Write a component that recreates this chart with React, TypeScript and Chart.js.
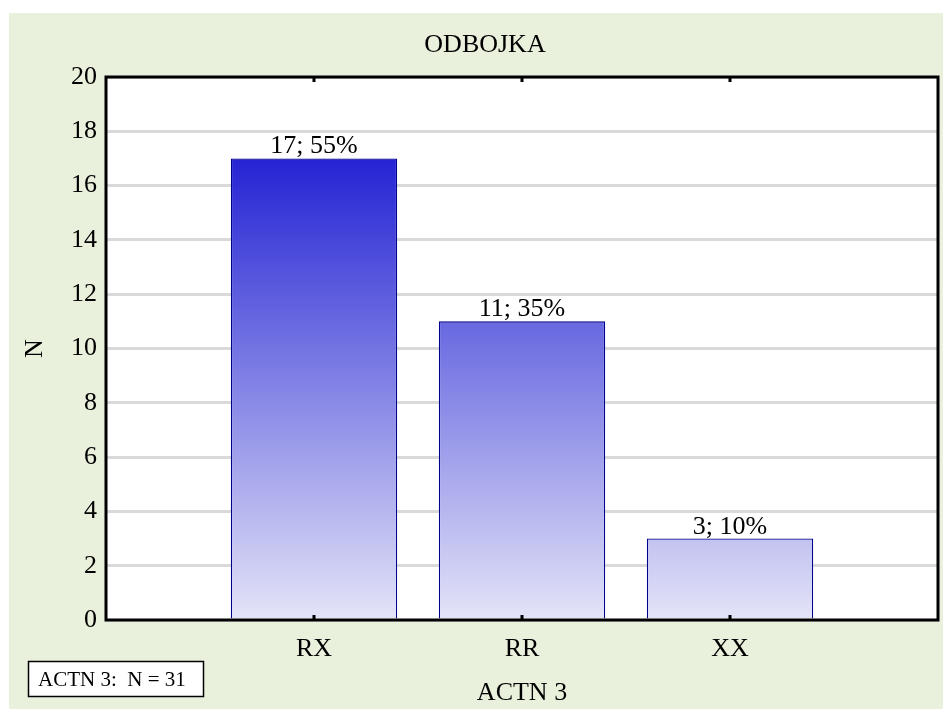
import React, { useEffect, useRef } from "react";
import { Chart, registerables } from "chart.js";

Chart.register(...registerables);

const chartTitle = "ODBOJKA";
const categories = ["RX", "RR", "XX"];
const values = [17, 11, 3];
const yTitle = "N";
const xTitle = "ACTN 3";
const noteText = "ACTN 3:  N = 31";
const yMin = 0;
const yMax = 20;
const yStep = 2;

const FONT = '"Liberation Serif", "Times New Roman", serif';

export default function App() {
  const ref = useRef<HTMLCanvasElement | null>(null);

  useEffect(() => {
    const canvas = ref.current;
    if (!canvas) return;
    const total = values.reduce((a, b) => a + b, 0);
    const labels = ["", ...categories, ""];
    const data = [null, ...values, null];
    const maxVal = Math.max(...values);

    const decor = {
      id: "decor",
      beforeDraw(chart: any) {
        const { ctx, chartArea } = chart;
        ctx.save();
        ctx.fillStyle = "#ffffff";
        ctx.fillRect(0, 0, chart.width, chart.height);
        ctx.fillStyle = "#E9F0DC";
        ctx.fillRect(9, 13, chart.width - 9, chart.height - 13);
        ctx.fillStyle = "#ffffff";
        ctx.fillRect(chartArea.left, chartArea.top, chartArea.right - chartArea.left, chartArea.bottom - chartArea.top);
        ctx.fillStyle = "#000";
        ctx.font = `26px ${FONT}`;
        ctx.textAlign = "center";
        ctx.textBaseline = "middle";
        ctx.fillText(chartTitle, 485, 45);
        ctx.restore();
      },
      afterDraw(chart: any) {
        const { ctx, chartArea } = chart;
        const xs = chart.scales.x;
        ctx.save();
        // frame
        ctx.strokeStyle = "#000";
        ctx.lineWidth = 3;
        ctx.strokeRect(chartArea.left, chartArea.top, chartArea.right - chartArea.left, chartArea.bottom - chartArea.top);
        // inward category tick marks
        ctx.fillStyle = "#000";
        for (let i = 1; i <= categories.length; i++) {
          const px = xs.getPixelForValue(i);
          ctx.fillRect(px - 1.5, chartArea.bottom - 5, 3, 5);
          ctx.fillRect(px - 1.5, chartArea.top, 3, 5);
        }
        // value labels
        const meta = chart.getDatasetMeta(0);
        ctx.font = `26px ${FONT}`;
        ctx.textAlign = "center";
        ctx.textBaseline = "alphabetic";
        meta.data.forEach((bar: any, i: number) => {
          const v = data[i];
          if (v == null) return;
          const pct = Math.round((v / total) * 100);
          ctx.fillText(`${v}; ${pct}%`, bar.x, bar.y - 5);
        });
        // note box
        ctx.fillStyle = "#fff";
        ctx.fillRect(28, 661, 176, 36);
        ctx.strokeStyle = "#000";
        ctx.lineWidth = 1.5;
        ctx.strokeRect(28.5, 661.5, 175, 35);
        ctx.fillStyle = "#000";
        ctx.font = `21px ${FONT}`;
        ctx.textAlign = "left";
        ctx.textBaseline = "middle";
        ctx.fillText(noteText, 38, 680);
        ctx.restore();
      },
    };

    const chart = new Chart(canvas, {
      type: "bar",
      data: {
        labels,
        datasets: [
          {
            data,
            backgroundColor: (c: any) => {
              const ch = c.chart;
              const area = ch.chartArea;
              if (!area || !ch.scales.y) return "#8888e8";
              const y0 = ch.scales.y.getPixelForValue(0);
              const y1 = ch.scales.y.getPixelForValue(maxVal);
              const g = ch.ctx.createLinearGradient(0, y0, 0, y1);
              g.addColorStop(0, "#E4E4F8");
              g.addColorStop(1, "#2424D4");
              return g;
            },
            borderColor: "#00008C",
            borderWidth: 1.3,
            categoryPercentage: 0.8,
            barPercentage: 1,
          },
        ],
      },
      plugins: [decor],
      options: {
        animation: false,
        responsive: false,
        maintainAspectRatio: false,
        layout: { padding: { top: 77, right: 5, left: 0, bottom: 0 } },
        plugins: { legend: { display: false }, tooltip: { enabled: false } },
        scales: {
          x: {
            offset: false,
            grid: { display: false, drawTicks: false },
            border: { display: false },
            ticks: { color: "#000", font: { family: FONT, size: 26 }, padding: 14, maxRotation: 0, autoSkip: false },
            title: { display: true, text: xTitle, color: "#000", font: { family: FONT, size: 26 }, padding: { top: 0, bottom: 0 } },
            afterFit: (s: any) => {
              s.height = 89;
              s.paddingLeft = 0;
              s.paddingRight = 0;
            },
          },
          y: {
            min: yMin,
            max: yMax,
            ticks: { stepSize: yStep, color: "#000", font: { family: FONT, size: 26 }, padding: 9 },
            grid: { color: "#D9D9D9", lineWidth: 3, drawTicks: false },
            border: { display: false },
            title: { display: true, text: yTitle, color: "#000", font: { family: FONT, size: 26 }, padding: { top: 20, bottom: 0 } },
            afterFit: (s: any) => {
              s.width = 106;
              s.paddingTop = 0;
              s.paddingBottom = 0;
            },
          },
        },
      },
    } as any);
    return () => chart.destroy();
  }, []);

  return (
    <div style={{ position: "absolute", left: 0, top: 0, width: 943, height: 709 }}>
      <canvas ref={ref} width={943} height={709} style={{ display: "block" }} />
    </div>
  );
}
